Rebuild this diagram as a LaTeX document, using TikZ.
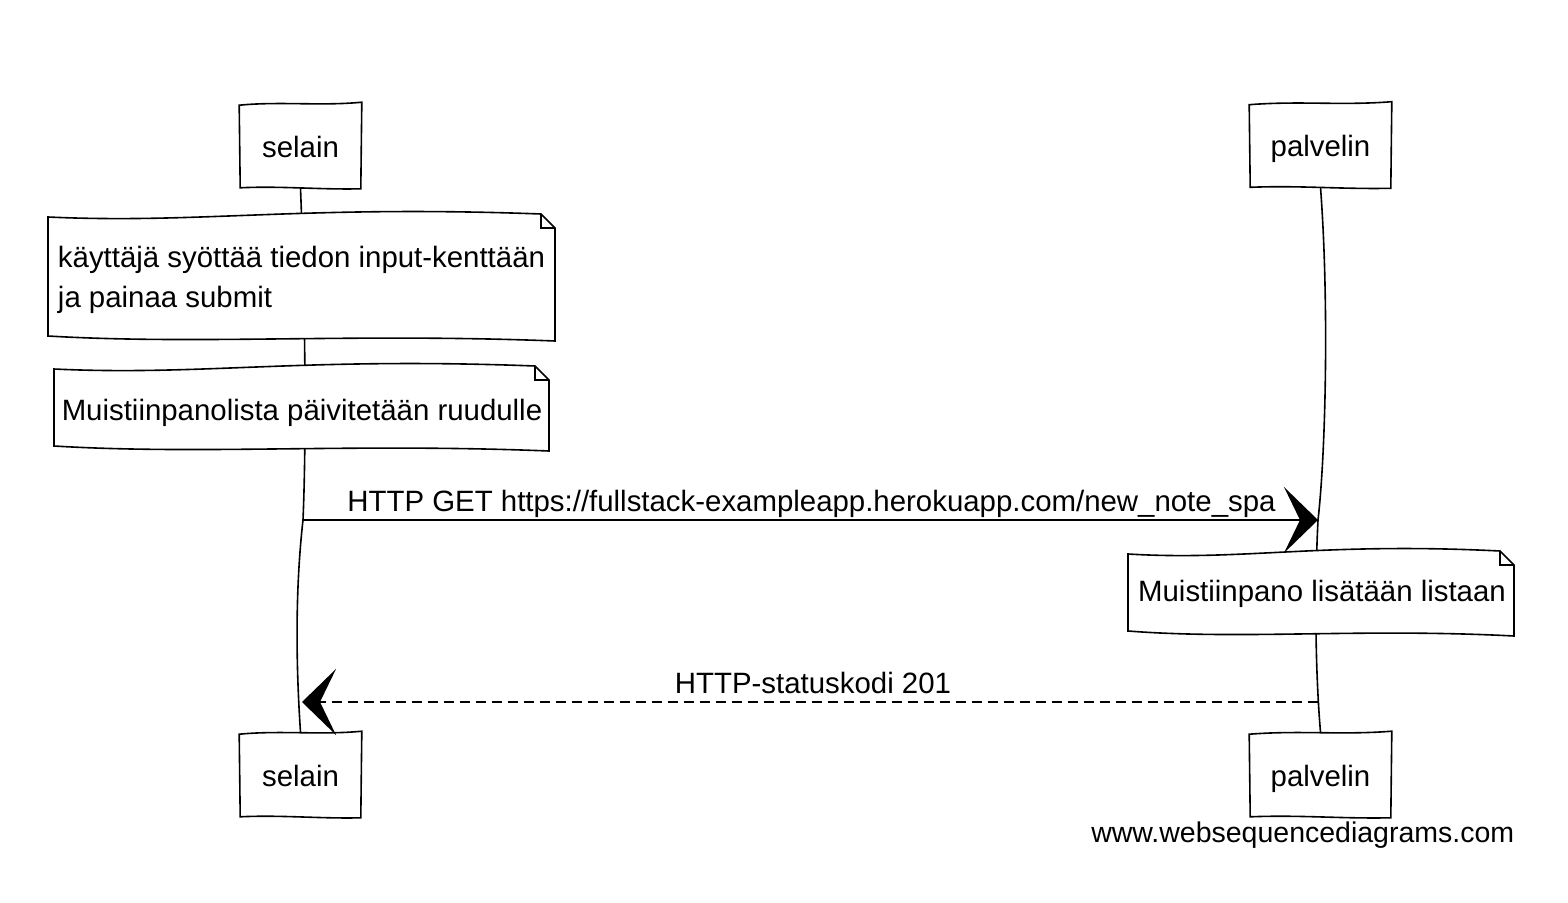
\documentclass[tikz,border=0pt]{standalone}
\usepackage{fontspec}
\setmainfont{Liberation Sans}
\usetikzlibrary{arrows.meta,calc,backgrounds}
\newcommand\lbl{\fontsize{29.4}{40}\selectfont}
% note outline: #1 left x, #2 top y, #3 right x, #4 bottom y
\newcommand\drawnote[4]{%
  \draw[fill=white,line width=1.6pt] ({#1},{#4-3}) -- ({#1},{#2+3})
    .. controls ({#1+0.3*(#3-#1)},{#2+10}) and ({#1+0.5*(#3-#1)},{#2-9}) .. ({#3-14},{#2})
    -- ({#3},{#2+14}) -- ({#3},{#4+2})
    .. controls ({#1+0.6*(#3-#1)},{#4-6}) and ({#1+0.3*(#3-#1)},{#4+6}) .. cycle;
  \draw[line width=1.6pt] ({#3-14},{#2}) -- ({#3-14},{#2+14}) -- ({#3},{#2+14});}
% slightly hand-drawn actor box around node #1
\newcommand\drawbox[1]{%
  \draw[fill=white,line width=1.6pt] ($(#1.south west)+(1,0)$) -- ($(#1.north west)+(0,2)$)
    .. controls ($(#1.north)+(-20,-2)$) and ($(#1.north)+(20,3)$) .. ($(#1.north east)+(0,-1)$)
    -- ($(#1.south east)+(-1,1)$)
    .. controls ($(#1.south)+(20,2)$) and ($(#1.south)+(-20,-2)$) .. cycle;}
\begin{document}
\begin{tikzpicture}[x=1pt,y=-1pt,line width=1.6pt,
  actor/.style={minimum height=83pt,inner sep=0pt,font=\lbl,text height=29pt,text depth=6pt},
  notetext/.style={inner sep=0pt,font=\lbl,align=left},
  lifeline/.style={line width=1.6pt},
  msg/.style={line width=1.8pt},
  bigtip/.style={-{Stealth[length=34pt,width=66pt,inset=16pt]}},
  msglabel/.style={inner sep=0pt,font=\lbl,anchor=base}]
\useasboundingbox (0,0) rectangle (1568,902);
% actors
\node[actor,minimum width=121pt] (ta) at (300.5,145.5) {selain};
\node[actor,minimum width=141pt] (tb) at (1320.5,145) {palvelin};
\node[actor,minimum width=121pt] (ba) at (300.5,774.5) {selain};
\node[actor,minimum width=141pt] (bb) at (1320.5,774.5) {palvelin};
% notes (text)
\node[notetext] (n1) at (301.5,280) {käyttäjä syöttää tiedon input-kenttään\\ja painaa submit};
\node[notetext,text height=22pt,text depth=6pt] (n2) at (302,412) {Muistiinpanolista päivitetään ruudulle};
\node[notetext,text height=22pt,text depth=6pt] (n3) at (1322,593) {Muistiinpano lisätään listaan};
% message endpoints on lifelines
\coordinate (s1) at (303,520);
\coordinate (p1) at (1318,520);
\coordinate (s2) at (302,702);
\coordinate (p2) at (1318,702);
\begin{scope}[on background layer]
  \draw[lifeline] (ta.south) .. controls (306,330) and (306,450) .. (s1)
        .. controls (294,600) and (297,680) .. (ba.north);
  \draw[lifeline] (tb.south) .. controls (1329,300) and (1326,450) .. (p1)
        .. controls (1314,600) and (1316,680) .. (bb.north);
  \drawbox{ta}
  \drawbox{tb}
  \drawbox{ba}
  \drawbox{bb}
  \drawnote{48}{214}{555}{339}
  \drawnote{54}{366}{549}{449}
  \drawnote{1128}{551}{1514}{634}
\end{scope}
% messages
\draw[msg,bigtip] (s1) -- (p1);
\node[msglabel] (l1) at ($(s1)!0.5!(p1)+(1,-9)$) {HTTP GET https://fullstack-exampleapp.herokuapp.com/new\_note\_spa};
\draw[msg,bigtip,dash pattern=on 10pt off 6pt] (p2) -- (s2);
\node[msglabel] (l2) at ($(s2)!0.5!(p2)+(3,-9)$) {HTTP-statuskodi 201};
% watermark
\node[inner sep=0pt,font=\fontsize{28.5}{34}\selectfont,anchor=east] (wm) at (1515,835) {www.websequencediagrams.com};
\end{tikzpicture}
\end{document}
